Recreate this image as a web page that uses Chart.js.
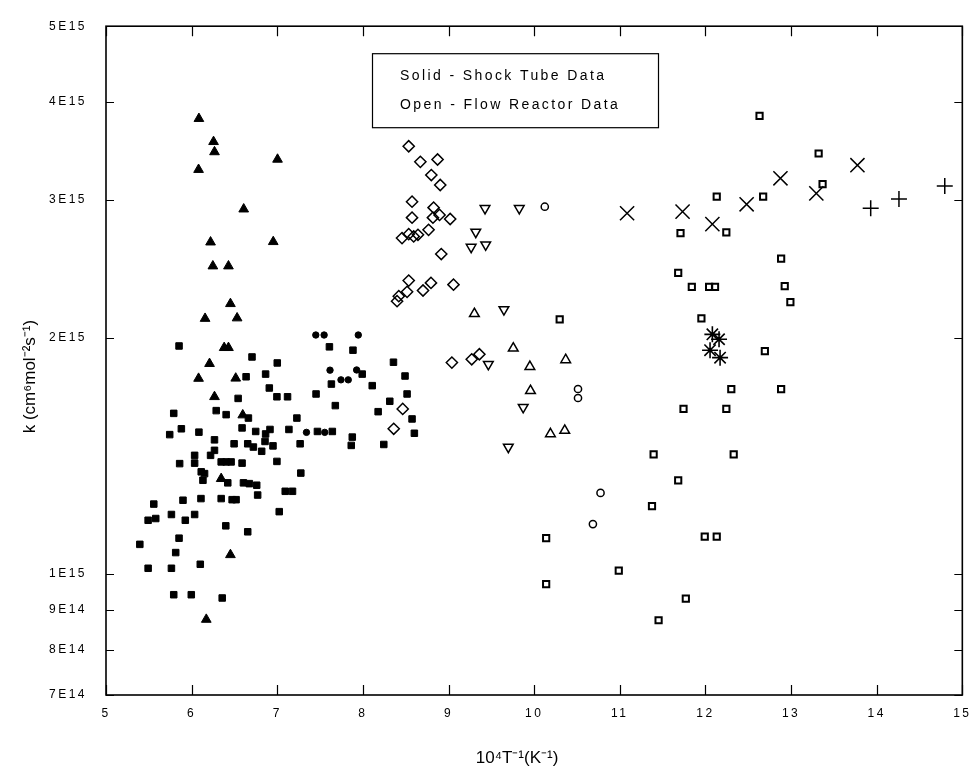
<!DOCTYPE html>
<html>
<head>
<meta charset="utf-8">
<title>k vs 10^4/T</title>
<script src="https://cdn.jsdelivr.net/npm/chart.js@4/dist/chart.umd.min.js"></script>
<style>
  html, body { margin: 0; padding: 0; background: #fff; }
  #wrap { position: relative; width: 980px; height: 783px; }
</style>
</head>
<body>
<div id="wrap"><canvas id="c"></canvas></div>
<script>
// Each point is [10^4/T in 1/K, k in units of 1E15 cm^6 mol^-2 s^-1]

// Shock tube data (solid symbols)
const shockSquares = [
  [5.853, 1.953], [6.705, 1.891], [7.000, 1.858], [7.609, 1.948], [7.884, 1.929],
  [8.357, 1.862], [8.492, 1.788], [8.516, 1.696], [8.314, 1.660], [8.178, 1.610],
  [8.574, 1.576], [8.601, 1.511], [8.244, 1.462], [7.876, 1.494], [7.864, 1.458],
  [7.678, 1.639], [7.453, 1.696], [7.632, 1.746], [7.992, 1.798], [8.109, 1.738],
  [6.864, 1.798], [6.907, 1.726], [6.996, 1.682], [7.120, 1.682], [7.229, 1.580],
  [7.136, 1.528], [6.915, 1.528], [6.864, 1.508], [6.857, 1.475], [6.950, 1.456],
  [6.748, 1.519], [6.589, 1.535], [6.636, 1.784], [6.543, 1.674], [6.287, 1.615],
  [6.403, 1.596], [6.663, 1.580], [6.496, 1.465], [6.267, 1.482], [6.267, 1.437],
  [6.221, 1.416], [6.655, 1.465], [6.721, 1.451], [6.818, 1.433], [6.085, 1.516],
  [5.880, 1.531], [5.744, 1.505], [5.791, 1.602], [5.860, 1.382], [6.035, 1.416],
  [6.035, 1.384], [6.112, 1.349], [6.151, 1.342], [6.132, 1.316], [6.345, 1.389],
  [6.403, 1.389], [6.461, 1.389], [6.589, 1.384], [6.422, 1.306], [6.605, 1.306],
  [6.674, 1.303], [6.760, 1.297], [6.996, 1.391], [7.275, 1.344], [7.093, 1.274],
  [7.178, 1.274], [6.771, 1.260], [6.473, 1.243], [6.519, 1.243], [6.345, 1.247],
  [6.109, 1.247], [5.899, 1.241], [5.558, 1.227], [5.492, 1.170], [5.581, 1.176],
  [5.764, 1.190], [5.926, 1.170], [6.035, 1.190], [5.853, 1.110], [5.814, 1.064],
  [5.395, 1.090], [6.399, 1.151], [6.655, 1.131], [7.023, 1.200], [5.492, 1.016],
  [5.764, 1.016], [6.101, 1.028], [5.791, 0.940], [5.996, 0.940], [6.357, 0.931],
  [7.469, 1.519], [7.643, 1.519], [7.267, 1.465]
];

const shockTriangles = [
  [6.085, 3.810], [6.256, 3.560], [6.267, 3.455], [7.003, 3.380], [6.081, 3.280],
  [6.608, 2.920], [6.221, 2.650], [6.953, 2.653], [6.248, 2.470], [6.430, 2.470],
  [6.453, 2.211], [6.157, 2.117], [6.531, 2.120], [6.380, 1.943], [6.430, 1.943],
  [6.209, 1.854], [6.081, 1.775], [6.515, 1.776], [6.267, 1.682], [6.597, 1.594],
  [6.345, 1.322], [6.453, 1.057], [6.171, 0.874]
];

const shockCircles = [
  [7.450, 2.017], [7.547, 2.017], [7.946, 2.017], [7.616, 1.819], [7.744, 1.768],
  [7.829, 1.768], [7.927, 1.820], [7.341, 1.515], [7.554, 1.515]
];

// Flow reactor data (open symbols)
const flowDiamonds = [
  [8.535, 3.513], [8.671, 3.356], [8.872, 3.379], [8.799, 3.228], [8.903, 3.135],
  [8.574, 2.985], [8.826, 2.933], [8.574, 2.848], [8.895, 2.871], [9.019, 2.837],
  [8.818, 2.848], [8.457, 2.682], [8.535, 2.713], [8.643, 2.708], [8.767, 2.748],
  [8.593, 2.695], [8.915, 2.559], [8.535, 2.367], [8.399, 2.228], [8.419, 2.261],
  [8.516, 2.290], [8.702, 2.299], [8.795, 2.351], [9.058, 2.339], [9.039, 1.860],
  [9.271, 1.878], [9.360, 1.906], [8.465, 1.623], [8.360, 1.531]
];

const flowDownTriangles = [
  [9.426, 2.927], [9.826, 2.927], [9.318, 2.730], [9.264, 2.612], [9.434, 2.630],
  [9.647, 2.174], [9.465, 1.851], [9.872, 1.631], [9.698, 1.451]
];

const flowUpTriangles = [
  [9.302, 2.147], [9.756, 1.940], [9.950, 1.838], [10.368, 1.875], [9.957, 1.712],
  [10.190, 1.508], [10.357, 1.523]
];

const flowCircles = [
  [10.124, 2.941], [10.512, 1.721], [10.512, 1.676], [10.775, 1.268], [10.686, 1.157]
];

const flowSquares = [
  [12.632, 3.841], [13.322, 3.439], [13.368, 3.144], [12.132, 3.029], [12.674, 3.029],
  [11.709, 2.721], [12.244, 2.727], [12.884, 2.525], [11.682, 2.421], [11.841, 2.324],
  [12.043, 2.324], [12.112, 2.324], [12.926, 2.328], [12.992, 2.222], [11.953, 2.118],
  [12.694, 1.924], [12.302, 1.720], [12.884, 1.720], [11.744, 1.623], [12.244, 1.623],
  [11.395, 1.420], [12.330, 1.420], [11.682, 1.316], [11.376, 1.220], [11.992, 1.115],
  [12.132, 1.115], [10.988, 1.009], [11.771, 0.929], [11.453, 0.872], [10.298, 2.112],
  [10.140, 1.110], [10.140, 0.970]
];

const flowCrosses = [
  [11.085, 2.885], [11.733, 2.899], [12.081, 2.794], [12.481, 2.962], [12.876, 3.197],
  [13.295, 3.059], [13.775, 3.323]
];

const flowPlus = [
  [13.930, 2.927], [14.260, 3.008], [14.795, 3.126]
];

const flowStars = [
  [12.081, 2.021], [12.159, 1.992], [12.054, 1.929], [12.171, 1.887]
];

// Axes
const xTickValues = [5, 6, 7, 8, 9, 10, 11, 12, 13, 14, 15];
const xTickLabels = ['5', '6', '7', '8', '9', '10', '11', '12', '13', '14', '15'];
const yTickValues = [7e14, 8e14, 9e14, 1e15, 2e15, 3e15, 4e15, 5e15];
const yTickLabels = ['7E14', '8E14', '9E14', '1E15', '2E15', '3E15', '4E15', '5E15'];
const xTitle = '10\u2074T\u207B\u00B9(K\u207B\u00B9)';
const yTitle = 'k (cm\u2076mol\u207B\u00B2s\u207B\u00B9)';
const noteLines = ['Solid - Shock Tube Data', 'Open - Flow Reactor Data'];

const FONT = '"Liberation Sans", Arial, sans-serif';
const toPoints = pts => pts.map(([x, k]) => ({ x: x, y: k * 1e15 }));

function series(label, pts, style, radius, filled, extra) {
  return Object.assign({
    label: label,
    data: toPoints(pts),
    showLine: false,
    pointStyle: style,
    pointRadius: radius,
    pointHoverRadius: radius,
    pointBorderColor: '#000',
    pointBackgroundColor: filled ? '#000' : 'rgba(0,0,0,0)',
    pointBorderWidth: filled ? 1 : 1.5
  }, extra || {});
}

const datasets = [
  series('Shock tube (squares)', shockSquares, 'rect', 4.6, true),
  series('Shock tube (triangles)', shockTriangles, 'triangle', 5.6, true),
  series('Shock tube (circles)', shockCircles, 'circle', 3.2, true),
  series('Flow reactor (diamonds)', flowDiamonds, 'rectRot', 5.6, false),
  series('Flow reactor (inverted triangles)', flowDownTriangles, 'triangle', 5.6, false, { pointRotation: 180 }),
  series('Flow reactor (triangles)', flowUpTriangles, 'triangle', 5.6, false),
  series('Flow reactor (circles)', flowCircles, 'circle', 3.6, false),
  series('Flow reactor (squares)', flowSquares, 'rect', 4.4, false, { pointBorderWidth: 2 }),
  series('Flow reactor (crosses)', flowCrosses, 'crossRot', 10, false),
  series('Flow reactor (plus)', flowPlus, 'cross', 8, false),
  series('Flow reactor (stars)', flowStars, 'star', 8, false, { pointBorderWidth: 1.6 })
];

// Frame with inward ticks on all four sides, axis titles and the boxed note
const framePlugin = {
  id: 'frame',
  beforeDraw(chart) {
    chart.ctx.letterSpacing = '0px';
  },
  afterDatasetsDraw(chart) {
    const ctx = chart.ctx;
    const a = chart.chartArea;
    const xs = chart.scales.x, ys = chart.scales.y;
    ctx.save();
    ctx.strokeStyle = '#000';
    ctx.lineWidth = 1.6;
    ctx.strokeRect(a.left, a.top, a.right - a.left, a.bottom - a.top);
    ctx.beginPath();
    xTickValues.forEach(v => {
      const px = Math.round(xs.getPixelForValue(v)) + 0.5;
      ctx.moveTo(px, a.bottom); ctx.lineTo(px, a.bottom - 10);
      ctx.moveTo(px, a.top); ctx.lineTo(px, a.top + 10);
    });
    yTickValues.forEach(v => {
      const py = Math.round(ys.getPixelForValue(v)) + 0.5;
      ctx.moveTo(a.left, py); ctx.lineTo(a.left + 8, py);
      ctx.moveTo(a.right, py); ctx.lineTo(a.right - 8, py);
    });
    ctx.lineWidth = 1.2;
    ctx.stroke();
    ctx.restore();
    // tick labels are drawn after this hook (ticks.z = 1) in a spaced-out face
    ctx.letterSpacing = '2.5px';
  },
  afterDraw(chart) {
    const ctx = chart.ctx;
    const a = chart.chartArea;
    const xs = chart.scales.x;
    ctx.save();
    ctx.letterSpacing = '0px';
    ctx.fillStyle = '#000';

    // axis titles
    ctx.font = '17px ' + FONT;
    ctx.textAlign = 'center';
    ctx.textBaseline = 'middle';
    ctx.fillText(xTitle, xs.getPixelForValue(9.8), chart.height - 25);
    ctx.save();
    ctx.translate(30, (a.top + a.bottom) / 2 + 16);
    ctx.rotate(-Math.PI / 2);
    ctx.fillText(yTitle, 0, 0);
    ctx.restore();

    // note box
    const bx = a.left + 266, by = a.top + 27, bw = 286, bh = 74;
    ctx.fillStyle = '#fff';
    ctx.fillRect(bx, by, bw, bh);
    ctx.strokeStyle = '#000';
    ctx.lineWidth = 1.2;
    ctx.strokeRect(bx + 0.5, by + 0.5, bw, bh);
    ctx.fillStyle = '#000';
    ctx.font = '14px ' + FONT;
    ctx.letterSpacing = '2.4px';
    ctx.textBaseline = 'middle';
    ctx.textAlign = 'left';
    noteLines.forEach((t, i) => ctx.fillText(t, bx + 28, by + 23 + i * 29));
    ctx.restore();
    ctx.letterSpacing = '0px';
  }
};

new Chart(document.getElementById('c'), {
  type: 'scatter',
  data: { datasets: datasets },
  plugins: [framePlugin],
  options: {
    responsive: true,
    maintainAspectRatio: false,
    animation: false,
    events: [],
    layout: { padding: { left: 0, right: 14, top: 23, bottom: 0 } },
    plugins: { legend: { display: false }, tooltip: { enabled: false } },
    scales: {
      x: {
        type: 'linear',
        min: 5, max: 15,
        afterFit: s => { s.height = 88; },
        afterBuildTicks: s => { s.ticks = xTickValues.map(v => ({ value: v })); },
        grid: { display: false, drawTicks: false },
        border: { display: false },
        ticks: {
          z: 1,
          padding: 11,
          color: '#000',
          font: { family: FONT, size: 12 },
          callback: v => xTickLabels[xTickValues.indexOf(v)]
        },
        title: { display: false, text: xTitle }
      },
      y: {
        type: 'logarithmic',
        min: 7e14, max: 5e15,
        afterFit: s => { s.width = 106; },
        afterBuildTicks: s => { s.ticks = yTickValues.map(v => ({ value: v })); },
        grid: { display: false, drawTicks: false },
        border: { display: false },
        ticks: {
          z: 1,
          padding: 19,
          color: '#000',
          font: { family: FONT, size: 12 },
          callback: v => yTickLabels[yTickValues.indexOf(v)]
        },
        title: { display: false, text: yTitle }
      }
    }
  }
});
</script>
</body>
</html>
